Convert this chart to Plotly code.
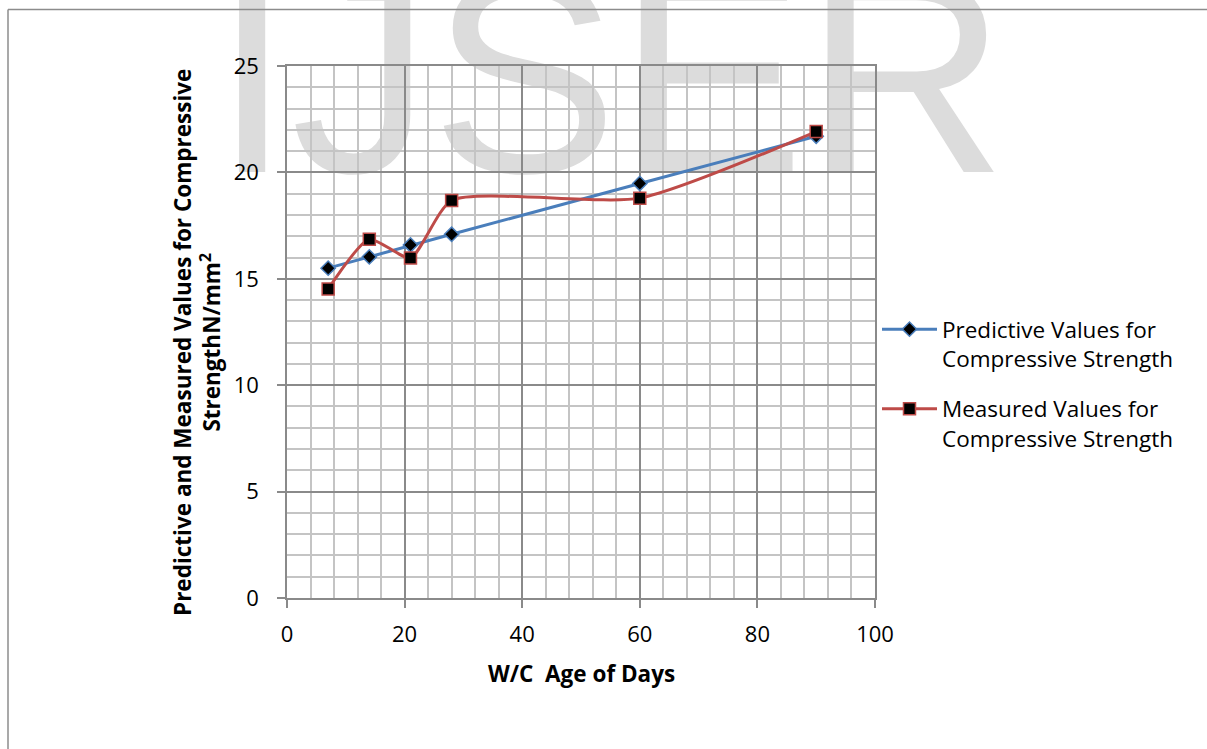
import plotly.graph_objects as go

# Curing age (days) and compressive strength (N/mm^2)
days = [7, 14, 21, 28, 60, 90]
predicted = [15.5, 16.03, 16.59, 17.09, 19.48, 21.7]
measured = [14.52, 16.86, 15.98, 18.68, 18.79, 21.92]

x_ticks = [0, 20, 40, 60, 80, 100]
y_ticks = [0, 5, 10, 15, 20, 25]

W, H = 1207, 749
L, R, T, B = 287, 332, 66, 151
PW, PH = W - L - R, H - T - B


def px(xp):
    return (xp - L) / PW


def py(yp):
    return (H - B - yp) / PH


FONT = "Open Sans"
MAJOR = "#8a8a8a"
MINOR = "#c4c4c4"

fig = go.Figure()

# Background watermark, on its own subplot so that it sits beneath the chart
fig.add_trace(go.Scatter(
    x=[px(610)], y=[py(102)], mode="text", text=["IJSER"],
    textposition="middle center",
    textfont=dict(family="Liberation Sans", size=280, color="#dcdcdc"),
    cliponaxis=False, showlegend=False, hoverinfo="skip",
    xaxis="x", yaxis="y",
))

fig.add_trace(go.Scatter(
    x=days, y=predicted, mode="lines+markers",
    name="Predictive Values for<br>Compressive Strength",
    legendgroup="pred",
    line=dict(color="#4a7ebb", width=3),
    marker=dict(symbol="diamond", size=11, color="black",
                line=dict(color="#4a7ebb", width=1.5)),
    xaxis="x2", yaxis="y2",
))

fig.add_trace(go.Scatter(
    x=days, y=measured, mode="lines+markers",
    name="Measured Values for<br>Compressive Strength",
    legendgroup="meas",
    line=dict(color="#be4b48", width=3, shape="spline", smoothing=0.6),
    marker=dict(symbol="square", size=12, color="black",
                line=dict(color="#be4b48", width=1.5)),
    xaxis="x2", yaxis="y2",
))

hidden = dict(visible=False, range=[0, 1], fixedrange=True)

fig.update_layout(
    width=W, height=H,
    margin=dict(l=L, r=R, t=T, b=B),
    paper_bgcolor="white",
    plot_bgcolor="rgba(0,0,0,0)",
    font=dict(family=FONT, size=22, color="black"),
    xaxis=dict(domain=[0, 1], **hidden),
    yaxis=dict(domain=[0, 1], **hidden),
    xaxis2=dict(
        domain=[0, 1], anchor="y2", range=[0, 100],
        tickvals=x_ticks, ticks="outside", ticklen=8, tickcolor=MAJOR,
        tickwidth=1.5, ticklabelstandoff=8,
        showgrid=True, gridcolor=MAJOR, gridwidth=1.5,
        minor=dict(dtick=4, showgrid=True, gridcolor=MINOR, gridwidth=1.5),
        showline=True, linecolor=MAJOR, linewidth=1.5, mirror=True,
        zeroline=False, tickfont=dict(size=22),
    ),
    yaxis2=dict(
        domain=[0, 1], anchor="x2", range=[0, 25],
        tickvals=y_ticks, ticks="outside", ticklen=8, tickcolor=MAJOR,
        tickwidth=1.5, ticklabelstandoff=14,
        showgrid=True, gridcolor=MAJOR, gridwidth=1.5,
        minor=dict(dtick=1, showgrid=True, gridcolor=MINOR, gridwidth=1.5),
        showline=True, linecolor=MAJOR, linewidth=1.5, mirror=True,
        zeroline=False, tickfont=dict(size=22),
    ),
    legend=dict(
        x=px(877), y=py(308), xanchor="left", yanchor="top",
        bgcolor="rgba(0,0,0,0)", font=dict(size=22.5),
        itemwidth=55, valign="top", tracegroupgap=18,
        traceorder="grouped",
    ),
    showlegend=True,
)

# Outer frame (top and left edges)
fig.add_shape(type="line", xref="paper", yref="paper",
              x0=px(8), x1=px(W + 5), y0=py(9.5), y1=py(9.5),
              line=dict(color="#8c8c8c", width=1.5))
fig.add_shape(type="line", xref="paper", yref="paper",
              x0=px(8), x1=px(8), y0=py(9.5), y1=py(H + 5),
              line=dict(color="#8c8c8c", width=1.5))

# Axis titles
fig.add_annotation(
    xref="paper", yref="paper", x=px(581), y=py(673),
    xanchor="center", yanchor="middle", showarrow=False,
    text="<b>W/C  Age of Days</b>", font=dict(size=22.5),
)
fig.add_annotation(
    xref="paper", yref="paper", x=px(197), y=py(343),
    xanchor="center", yanchor="middle", showarrow=False, textangle=-90,
    text="<b>Predictive and Measured Values for Compressive<br>"
         "StrengthN/mm<sup>2</sup></b>",
    font=dict(size=22.5),
)

fig.write_html("out.html")
